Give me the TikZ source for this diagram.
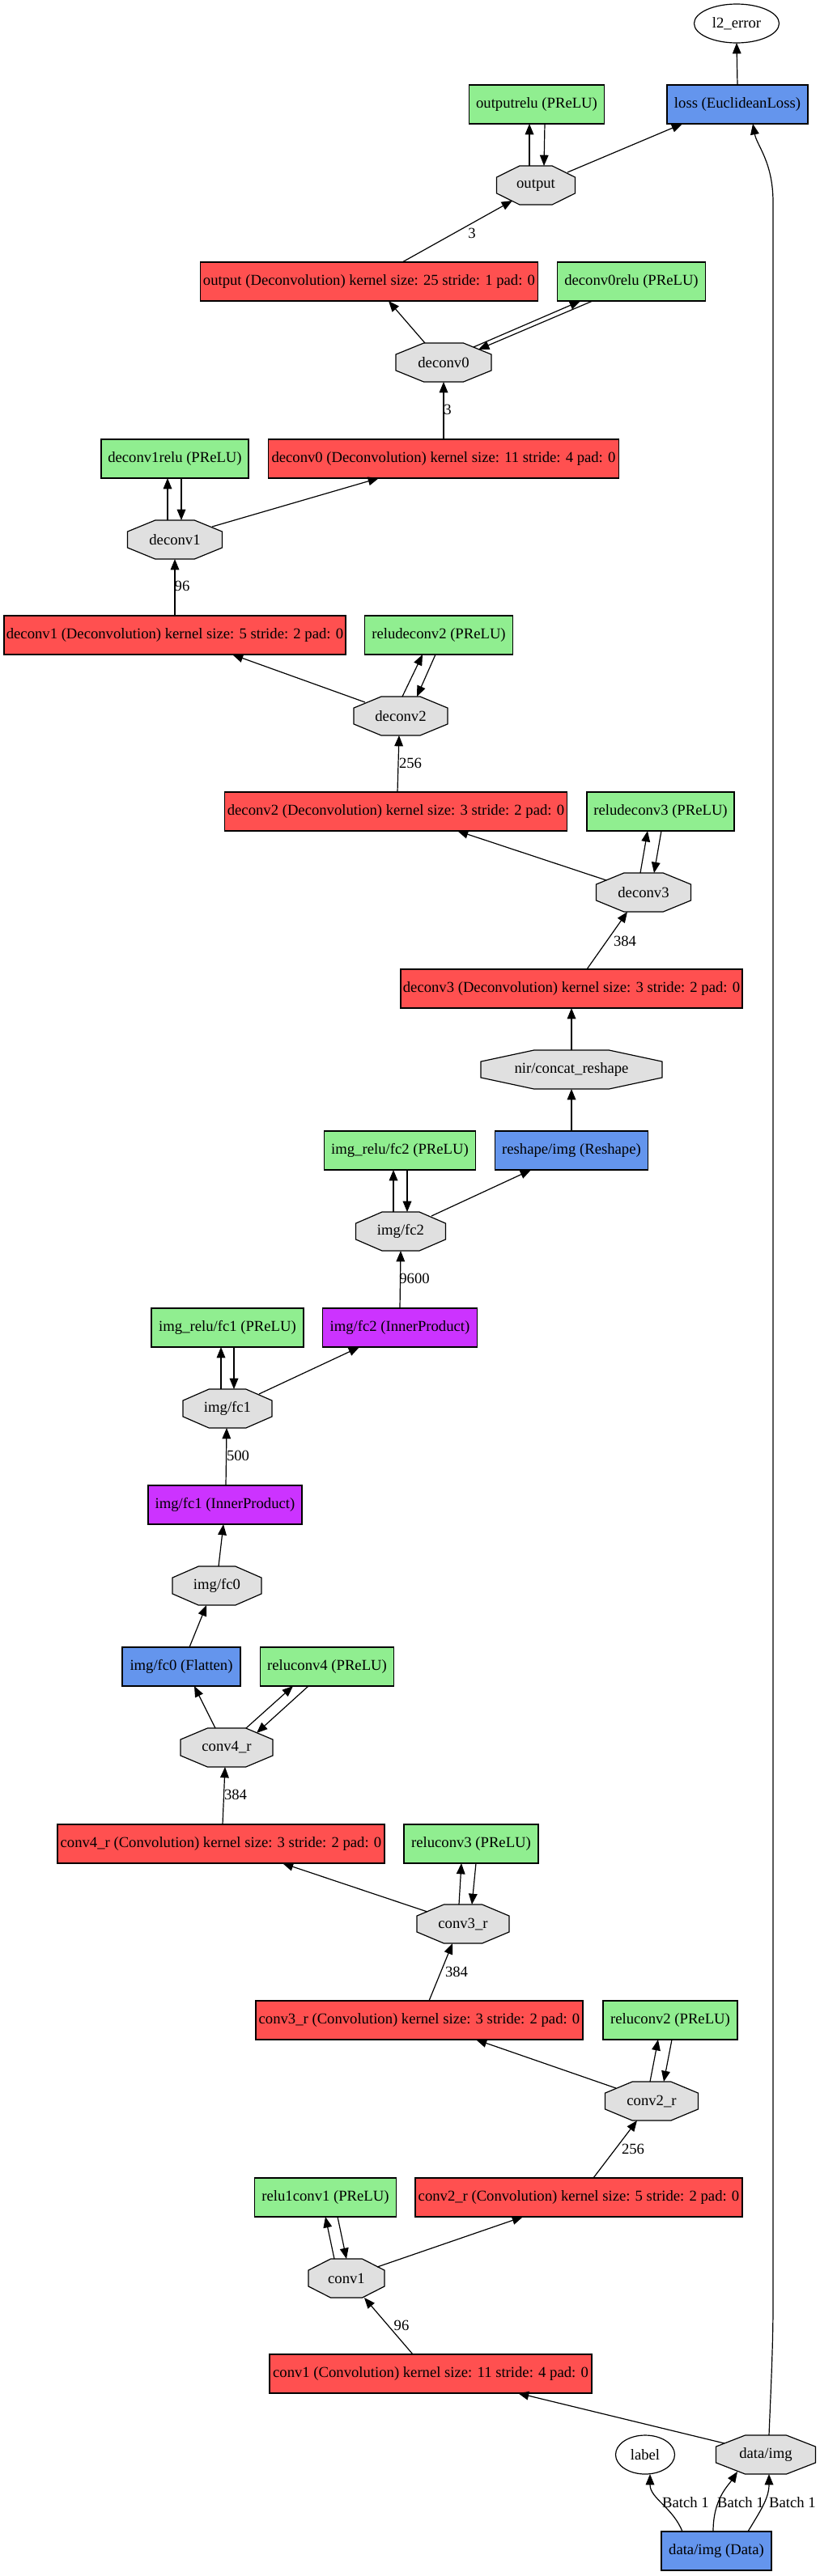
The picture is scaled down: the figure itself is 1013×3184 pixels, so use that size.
\documentclass[tikz,border=0pt]{standalone}
\usepackage{fontspec}
\setmainfont{Liberation Serif}
\usetikzlibrary{arrows.meta,calc,shapes.geometric}
\definecolor{convred}{HTML}{FF5050}
\definecolor{neugreen}{HTML}{90EE90}
\definecolor{othblue}{HTML}{6495ED}
\definecolor{ippurple}{HTML}{CC33FF}
\definecolor{blobgray}{HTML}{E0E0E0}
\pgfdeclarelayer{bg}
\pgfsetlayers{bg,main}
\newcommand{\nfont}{\fontsize{14}{16}\selectfont}
\tikzset{
 lay/.style={rectangle,draw=black,line width=0.9pt,minimum height=36pt,minimum width={#1*0.75pt},inner sep=0pt,outer sep=0pt,font=\nfont},
 convbox/.style={lay=#1,fill=convred},
 neubox/.style={lay=#1,fill=neugreen},
 othbox/.style={lay=#1,fill=othblue},
 ipbox/.style={lay=#1,fill=ippurple},
 blob/.style={rectangle,minimum height=36pt,minimum width={#1*0.75pt},inner sep=0pt,outer sep=0pt,font=\nfont},
 ell/.style={ellipse,draw=black,line width=0.9pt,fill=white,minimum height=36pt,minimum width={#1*0.75pt},inner sep=0pt,outer sep=0pt,font=\nfont},
 conn/.style={line width=0.9pt,-{Triangle[length=10pt,width=8pt]}},
 lbl/.style={inner sep=0pt,font=\nfont},
 octa/.style={fill=blobgray,draw=black,line width=0.9pt}
}
\newcommand{\octagonfor}[1]{%
 \filldraw[octa]
 ($(#1.north west)!0.293!(#1.north east)$) --
 ($(#1.north west)!0.707!(#1.north east)$) --
 ($(#1.north east)!0.293!(#1.south east)$) --
 ($(#1.north east)!0.707!(#1.south east)$) --
 ($(#1.south west)!0.707!(#1.south east)$) --
 ($(#1.south west)!0.293!(#1.south east)$) --
 ($(#1.north west)!0.707!(#1.south west)$) --
 ($(#1.north west)!0.293!(#1.south west)$) -- cycle;}
\begin{document}
\begin{tikzpicture}[x=0.75pt,y=-0.75pt]
\useasboundingbox (0,0) rectangle (1013,3184);
% nodes
\node[ell=105] (l2) at (910,29) {l2\_error};
\node[neubox=167] (orelu) at (663,129) {outputrelu (PReLU)};
\node[othbox=174] (loss) at (911,129) {loss (EuclideanLoss)};
\node[blob=97] (outb) at (662,229) {output};
\node[convbox=417] (outd) at (456,348) {output (Deconvolution) kernel size: 25 stride: 1 pad: 0};
\node[neubox=183] (d0relu) at (780,348) {deconv0relu (PReLU)};
\node[blob=118] (d0b) at (548,448) {deconv0};
\node[convbox=433] (d0d) at (548,567) {deconv0 (Deconvolution) kernel size: 11 stride: 4 pad: 0};
\node[neubox=182] (d1relu) at (216,567) {deconv1relu (PReLU)};
\node[blob=117] (d1b) at (216,667) {deconv1};
\node[convbox=422] (d1d) at (216,785) {deconv1 (Deconvolution) kernel size: 5 stride: 2 pad: 0};
\node[neubox=183] (rd2) at (542,785) {reludeconv2 (PReLU)};
\node[blob=116] (d2b) at (495,885) {deconv2};
\node[convbox=423] (d2d) at (489,1003) {deconv2 (Deconvolution) kernel size: 3 stride: 2 pad: 0};
\node[neubox=182] (rd3) at (816,1003) {reludeconv3 (PReLU)};
\node[blob=117] (d3b) at (795,1103) {deconv3};
\node[convbox=422] (d3d) at (706,1222) {deconv3 (Deconvolution) kernel size: 3 stride: 2 pad: 0};
\node[blob=224] (nir) at (706,1322) {nir/concat\_reshape};
\node[neubox=187] (irfc2) at (494,1422) {img\_relu/fc2 (PReLU)};
\node[othbox=189] (reshape) at (706,1422) {reshape/img (Reshape)};
\node[blob=111] (fc2b) at (495,1522) {img/fc2};
\node[neubox=188] (irfc1) at (281,1641) {img\_relu/fc1 (PReLU)};
\node[ipbox=191] (fc2ip) at (494,1641) {img/fc2 (InnerProduct)};
\node[blob=110] (fc1b) at (281,1741) {img/fc1};
\node[ipbox=190] (fc1ip) at (278,1860) {img/fc1 (InnerProduct)};
\node[blob=110] (fc0b) at (268,1960) {img/fc0};
\node[othbox=146] (flat) at (224,2060) {img/fc0 (Flatten)};
\node[neubox=165] (rc4) at (404,2060) {reluconv4 (PReLU)};
\node[blob=114] (c4b) at (280,2160) {conv4\_r};
\node[convbox=404] (c4c) at (273,2279) {conv4\_r (Convolution) kernel size: 3 stride: 2 pad: 0};
\node[neubox=166] (rc3) at (582,2279) {reluconv3 (PReLU)};
\node[blob=114] (c3b) at (572,2378) {conv3\_r};
\node[convbox=404] (c3c) at (518,2497) {conv3\_r (Convolution) kernel size: 3 stride: 2 pad: 0};
\node[neubox=166] (rc2) at (828,2497) {reluconv2 (PReLU)};
\node[blob=115] (c2b) at (805,2597) {conv2\_r};
\node[neubox=175] (r1c1) at (402,2716) {relu1conv1 (PReLU)};
\node[convbox=404] (c2c) at (715,2716) {conv2\_r (Convolution) kernel size: 5 stride: 2 pad: 0};
\node[blob=94] (c1b) at (428,2816) {conv1};
\node[convbox=398] (c1c) at (532,2934) {conv1 (Convolution) kernel size: 11 stride: 4 pad: 0};
\node[ell=73] (label) at (797,3034) {label};
\node[blob=123] (dimgb) at (946,3034) {data/img};
\node[othbox=136] (data) at (885,3153) {data/img (Data)};
% octagons behind the blob texts
\begin{pgfonlayer}{bg}
\fill[white] (0,0) rectangle (1013,3184);
\octagonfor{outb}\octagonfor{d0b}\octagonfor{d1b}\octagonfor{d2b}\octagonfor{d3b}
\octagonfor{nir}\octagonfor{fc2b}\octagonfor{fc1b}\octagonfor{fc0b}\octagonfor{c4b}
\octagonfor{c3b}\octagonfor{c2b}\octagonfor{c1b}\octagonfor{dimgb}
\end{pgfonlayer}
% edge labels
\node[lbl] (lb1) at (583,288) {3};
\node[lbl] (lb2) at (553,506) {3};
\node[lbl] (lb3) at (225,724) {96};
\node[lbl] (lb4) at (507,943) {256};
\node[lbl] (lb5) at (772,1163) {384};
\node[lbl] (lb6) at (512,1580) {9600};
\node[lbl] (lb7) at (294,1799) {500};
\node[lbl] (lb8) at (291,2218) {384};
\node[lbl] (lb9) at (564,2437) {384};
\node[lbl] (lb10) at (782,2656) {256};
\node[lbl] (lb11) at (496,2874) {96};
\node[lbl] (lb12) at (847,3093) {Batch 1};
\node[lbl] (lb13) at (915,3093) {Batch 1};
\node[lbl] (lb14) at (979,3093) {Batch 1};
% coordinates for the long connector
\coordinate (v1) at (955,2850);
\coordinate (v2) at (955,250);
% connectors
\draw[conn] (loss.north) -- (l2.south);
\draw[conn] ([shift={(-8,0)}]outb.north) -- ([shift={(-9,0)}]orelu.south);
\draw[conn] ([shift={(10,0)}]orelu.south) -- ([shift={(10,0)}]outb.north);
\draw[conn] ([shift={(39,-16)}]outb.center) -- ([shift={(-68,0)}]loss.south);
\draw[conn] ([shift={(41,0)}]outd.north) -- ([shift={(-29,19)}]outb.center);
\draw[conn] ([shift={(-23,0)}]d0b.north) -- ([shift={(24,0)}]outd.south);
\draw[conn] ([shift={(37,-19)}]d0b.center) -- ([shift={(-63,0)}]d0relu.south);
\draw[conn] ([shift={(-48,0)}]d0relu.south) -- ([shift={(43,-16)}]d0b.center);
\draw[conn] (d0d.north) -- (d0b.south);
\draw[conn] ([shift={(-9,0)}]d1b.north) -- ([shift={(-9,0)}]d1relu.south);
\draw[conn] ([shift={(8,0)}]d1relu.south) -- ([shift={(8,0)}]d1b.north);
\draw[conn] ([shift={(46,-16)}]d1b.center) -- ([shift={(-80,0)}]d0d.south);
\draw[conn] (d1d.north) -- (d1b.south);
\draw[conn] ([shift={(-44,-17)}]d2b.center) -- ([shift={(71,0)}]d1d.south);
\draw[conn] ([shift={(2,0)}]d2b.north) -- ([shift={(-20,0)}]rd2.south);
\draw[conn] ([shift={(-4,0)}]rd2.south) -- ([shift={(20,0)}]d2b.north);
\draw[conn] ([shift={(2,0)}]d2d.north) -- ([shift={(-2,0)}]d2b.south);
\draw[conn] ([shift={(-46,-15)}]d3b.center) -- ([shift={(76,0)}]d2d.south);
\draw[conn] ([shift={(-4,0)}]d3b.north) -- ([shift={(-16,0)}]rd3.south);
\draw[conn] ([shift={(1,0)}]rd3.south) -- ([shift={(13,0)}]d3b.north);
\draw[conn] ([shift={(19,0)}]d3d.north) -- ([shift={(-20,0)}]d3b.south);
\draw[conn] (nir.north) -- (d3d.south);
\draw[conn] (reshape.north) -- (nir.south);
\draw[conn] ([shift={(-9,0)}]fc2b.north) -- ([shift={(-8,0)}]irfc2.south);
\draw[conn] ([shift={(9,0)}]irfc2.south) -- ([shift={(8,0)}]fc2b.north);
\draw[conn] ([shift={(38,-19)}]fc2b.center) -- ([shift={(-50,0)}]reshape.south);
\draw[conn] (fc2ip.north) -- (fc2b.south);
\draw[conn] ([shift={(-8,0)}]fc1b.north) -- ([shift={(-8,0)}]irfc1.south);
\draw[conn] ([shift={(8,0)}]irfc1.south) -- ([shift={(8,0)}]fc1b.north);
\draw[conn] ([shift={(39,-18)}]fc1b.center) -- ([shift={(-50,0)}]fc2ip.south);
\draw[conn] ([shift={(1,0)}]fc1ip.north) -- ([shift={(-1,0)}]fc1b.south);
\draw[conn] ([shift={(2,0)}]fc0b.north) -- ([shift={(-2,0)}]fc1ip.south);
\draw[conn] ([shift={(10,0)}]flat.north) -- ([shift={(-13,0)}]fc0b.south);
\draw[conn] ([shift={(-14,0)}]c4b.north) -- ([shift={(16,0)}]flat.south);
\draw[conn] ([shift={(24,-24)}]c4b.center) -- ([shift={(-42,0)}]rc4.south);
\draw[conn] ([shift={(-23,0)}]rc4.south) -- ([shift={(37,-18)}]c4b.center);
\draw[conn] ([shift={(2,0)}]c4c.north) -- ([shift={(-2,0)}]c4b.south);
\draw[conn] ([shift={(-44,-15)}]c3b.center) -- ([shift={(76,0)}]c4c.south);
\draw[conn] ([shift={(-5,0)}]c3b.north) -- ([shift={(-12,0)}]rc3.south);
\draw[conn] ([shift={(6,0)}]rc3.south) -- ([shift={(11,0)}]c3b.north);
\draw[conn] ([shift={(12,0)}]c3c.north) -- ([shift={(-13,0)}]c3b.south);
\draw[conn] ([shift={(-44,-16)}]c2b.center) -- ([shift={(70,0)}]c3c.south);
\draw[conn] ([shift={(-2,0)}]c2b.north) -- ([shift={(-15,0)}]rc2.south);
\draw[conn] ([shift={(2,0)}]rc2.south) -- ([shift={(15,0)}]c2b.north);
\draw[conn] ([shift={(18,0)}]c2c.north) -- ([shift={(-18,0)}]c2b.south);
\draw[conn] ([shift={(-15,0)}]c1b.north) -- (r1c1.south);
\draw[conn] ([shift={(15,0)}]r1c1.south) -- (c1b.north);
\draw[conn] ([shift={(38,-14)}]c1b.center) -- ([shift={(-69,0)}]c2c.south);
\draw[conn] ([shift={(-22,0)}]c1c.north) -- ([shift={(22,0)}]c1b.south);
\draw[conn] ([shift={(-51,-14)}]dimgb.center) -- ([shift={(108,0)}]c1c.south);
\draw[conn] ([shift={(-42,0)}]data.north) .. controls ([shift={(-54,-30)}]data.north) and ([shift={(6,30)}]label.south) .. ([shift={(6,0)}]label.south);
\draw[conn] ([shift={(-4,0)}]data.north) .. controls ([shift={(-4,-40)}]data.north) and ([shift={(-47,39)}]dimgb.center) .. ([shift={(-35,21)}]dimgb.center);
\draw[conn] ([shift={(39,0)}]data.north) .. controls ([shift={(54,-25)}]data.north) and ([shift={(4,30)}]dimgb.south) .. ([shift={(4,0)}]dimgb.south);
\draw[conn] ([shift={(4,0)}]dimgb.north) .. controls ([shift={(6,-50)}]dimgb.north) and (955,2900) .. (v1) -- (v2) .. controls (955,200) and (935,180) .. ([shift={(19,0)}]loss.south);
\end{tikzpicture}
\end{document}
